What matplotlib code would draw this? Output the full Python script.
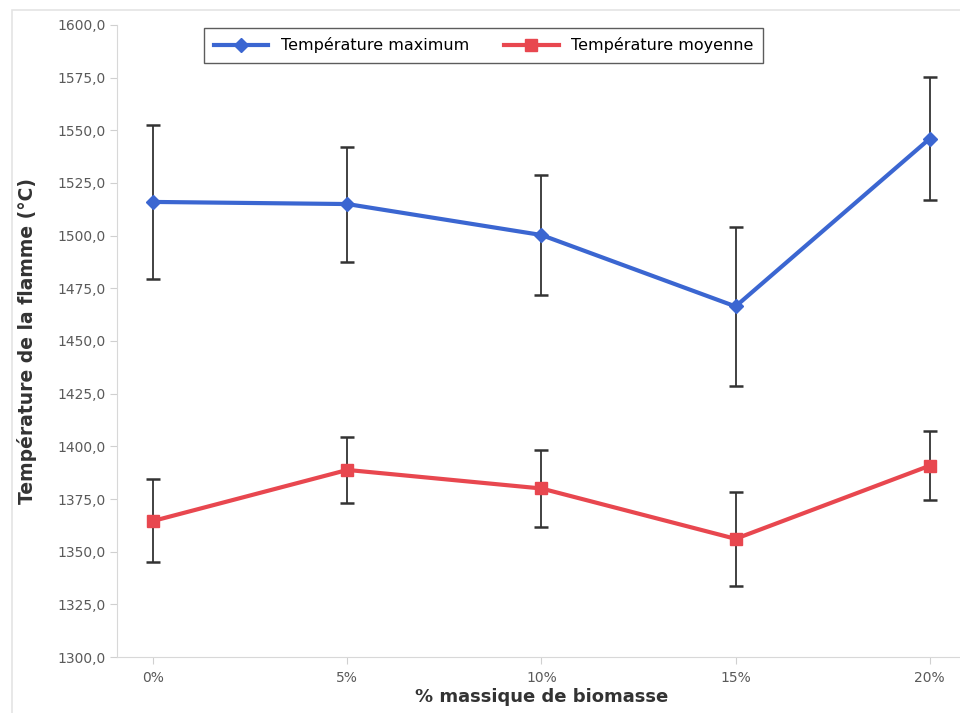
import numpy as np
import matplotlib.pyplot as plt
from matplotlib.ticker import FuncFormatter
from matplotlib.patches import Rectangle

categories = ["0%", "5%", "10%", "15%", "20%"]
temp_max = [1516.0, 1515.0, 1500.3, 1466.4, 1546.0]
err_max = [36.5, 27.3, 28.5, 37.7, 29.2]
temp_moy = [1364.6, 1388.8, 1380.0, 1356.1, 1390.8]
err_moy = [19.7, 15.7, 18.3, 22.3, 16.3]

blue = "#3b66d1"
red = "#e8474f"

fig = plt.figure(figsize=(9.6, 7.13), dpi=100)
ax = fig.add_axes([0.122, 0.0785, 0.884, 0.8865])

# cadre gris clair autour du graphique
fig.patches.append(Rectangle((0.012, -0.05), 1.1, 1.036, transform=fig.transFigure,
                             fill=False, edgecolor="#e4e4e4", linewidth=1.2))

x = np.arange(len(categories))
ax.errorbar(x, temp_max, yerr=err_max, fmt="none", ecolor="#333333",
            elinewidth=1.3, capsize=5, capthick=1.8, zorder=2)
ax.errorbar(x, temp_moy, yerr=err_moy, fmt="none", ecolor="#333333",
            elinewidth=1.3, capsize=5, capthick=1.8, zorder=2)
ax.plot(x, temp_max, color=blue, linewidth=3, marker="D", markersize=7,
        label="Température maximum", zorder=3)
ax.plot(x, temp_moy, color=red, linewidth=3, marker="s", markersize=9,
        label="Température moyenne", zorder=3)

ax.set_xlim(-0.186, 4.186)
ax.set_ylim(1300, 1600)
ax.set_xticks(x)
ax.set_xticklabels(categories)
ax.set_yticks(np.arange(1300, 1601, 25))
ax.yaxis.set_major_formatter(FuncFormatter(lambda v, p: f"{v:.1f}".replace(".", ",")))

for s in ["top", "right"]:
    ax.spines[s].set_visible(False)
for s in ["left", "bottom"]:
    ax.spines[s].set_color("#d8d8d8")
ax.tick_params(colors="#d0d0d0", labelcolor="#5a5a5a", labelsize=10, length=5)
ax.tick_params(axis="x", pad=5)

ax.set_xlabel("% massique de biomasse", fontsize=13, fontweight="bold", color="#333333", labelpad=2)
ax.set_ylabel("Température de la flamme (°C)", fontsize=13.5, fontweight="bold", color="#333333", labelpad=14)

leg = ax.legend(loc="upper center", bbox_to_anchor=(0.432, 1.008), ncol=2, fontsize=11.5,
                frameon=True, fancybox=False, edgecolor="#333333", handlelength=3.4,
                columnspacing=2.2, borderpad=0.6)
leg.get_frame().set_linewidth(1.0)

fig.savefig("out.png", dpi=100)
